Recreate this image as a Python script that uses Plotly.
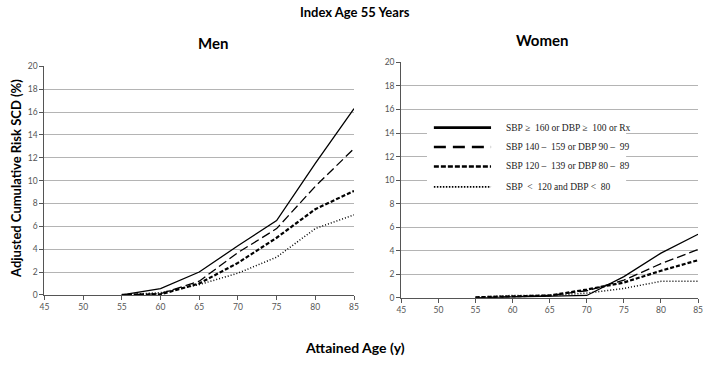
import plotly.graph_objects as go

ages = [55, 60, 65, 70, 75, 80, 85]
series_names = [
    "SBP \u2265  160 or DBP \u2265  100 or Rx",
    "SBP 140 \u2013  159 or DBP 90 \u2013  99",
    "SBP 120 \u2013  139 or DBP 80 \u2013  89",
    "SBP  <  120 and DBP <  80",
]
men_high = [0.0, 0.55, 2.0, 4.3, 6.5, 11.5, 16.3]
men_stage1 = [0.0, 0.1, 1.2, 3.7, 5.8, 9.5, 12.8]
men_prehyp = [0.0, 0.05, 1.0, 2.8, 5.0, 7.5, 9.1]
men_normal = [0.0, 0.2, 0.9, 1.9, 3.3, 5.8, 7.0]
women_high = [0.0, 0.05, 0.1, 0.2, 1.8, 3.8, 5.4]
women_stage1 = [0.0, 0.1, 0.2, 0.6, 1.5, 2.9, 4.1]
women_prehyp = [0.05, 0.1, 0.2, 0.7, 1.3, 2.3, 3.2]
women_normal = [0.05, 0.2, 0.2, 0.4, 0.8, 1.4, 1.4]
x_ticks = [45, 50, 55, 60, 65, 70, 75, 80, 85]
y_ticks = [0, 2, 4, 6, 8, 10, 12, 14, 16, 18, 20]

line_styles = [
    dict(color="black", width=1.3, dash="solid"),
    dict(color="black", width=1.3, dash="9px,4px"),
    dict(color="black", width=2.2, dash="4px,2px"),
    dict(color="black", width=1.5, dash="1px,2px"),
]
legend_styles = [
    dict(color="black", width=2.6, dash="solid"),
    dict(color="black", width=2.6, dash="12px,7px"),
    dict(color="black", width=2.6, dash="5px,2px"),
    dict(color="black", width=1.6, dash="1.5px,1.5px"),
]

fig = go.Figure()
men = [men_high, men_stage1, men_prehyp, men_normal]
women = [women_high, women_stage1, women_prehyp, women_normal]
for i in range(4):
    fig.add_trace(go.Scatter(x=ages, y=men[i], mode="lines", line=line_styles[i],
                             name=series_names[i], showlegend=False, xaxis="x", yaxis="y"))
for i in range(4):
    fig.add_trace(go.Scatter(x=ages, y=women[i], mode="lines", line=line_styles[i],
                             name=series_names[i], showlegend=False, xaxis="x2", yaxis="y2"))

W, H = 709, 368
def px(x):
    return x / W
def py(y):
    return (H - y) / H

axis_common = dict(
    showline=True, linecolor="#555", linewidth=1.2,
    ticks="outside", ticklen=4, tickcolor="#555",
    tickfont=dict(family="Lato", size=8.5, color="#555"),
    zeroline=False,
)
fig.update_layout(
    width=W, height=H,
    margin=dict(l=0, r=0, t=0, b=0),
    paper_bgcolor="white", plot_bgcolor="white",
    showlegend=False,
    xaxis=dict(domain=[px(40), px(354)], range=[45, 85], tickvals=x_ticks,
               showgrid=False, anchor="y", **axis_common),
    yaxis=dict(domain=[py(298), py(63)], range=[0, 20], tickvals=y_ticks,
               showgrid=True, gridcolor="#b4b4b4", gridwidth=1, anchor="x", **axis_common),
    xaxis2=dict(domain=[px(402), px(703)], range=[45, 85], tickvals=x_ticks,
                showgrid=False, anchor="y2", **axis_common),
    yaxis2=dict(domain=[py(301), py(59)], range=[0, 20], tickvals=y_ticks,
                showgrid=True, gridcolor="#b4b4b4", gridwidth=1, anchor="x2", **axis_common),
)

title_font = dict(family="Lato", color="black")
annotations = [
    dict(text="<b>Index Age 55 Years</b>", x=px(355), y=py(7), font=dict(size=13, **title_font)),
    dict(text="<b>Men</b>", x=px(211), y=py(39), font=dict(size=15, **title_font)),
    dict(text="<b>Women</b>", x=px(545), y=py(36), font=dict(size=15, **title_font)),
    dict(text="<b>Attained Age (y)</b>", x=px(355), y=py(352), font=dict(size=14, **title_font)),
    dict(text="<b>Adjusted Cumulative Risk SCD (%)</b>", x=px(11), y=py(178), textangle=-90,
         font=dict(size=13, **title_font)),
]
for a in annotations:
    a.update(xref="paper", yref="paper", showarrow=False, xanchor="center", yanchor="middle")

# Legend box drawn inside the women panel
shapes = [dict(type="rect", xref="paper", yref="paper", x0=px(428), x1=px(630),
               y0=py(197), y1=py(115), fillcolor="white", line=dict(width=0), layer="above")]
leg_y = [126, 146, 166, 187]
for i in range(4):
    shapes.append(dict(type="line", xref="paper", yref="paper", x0=px(435), x1=px(493),
                       y0=py(leg_y[i]), y1=py(leg_y[i]), line=legend_styles[i], layer="above"))
    annotations.append(dict(text=series_names[i], xref="paper", yref="paper",
                            x=px(506), y=py(leg_y[i]), xanchor="left", yanchor="middle",
                            showarrow=False,
                            font=dict(family="Liberation Serif", size=9.5, color="#222")))

fig.update_layout(annotations=annotations, shapes=shapes)
fig.write_html("out.html", config={"displayModeBar": False},
               post_script="document.body.style.margin='0';document.body.style.overflow='hidden';")
